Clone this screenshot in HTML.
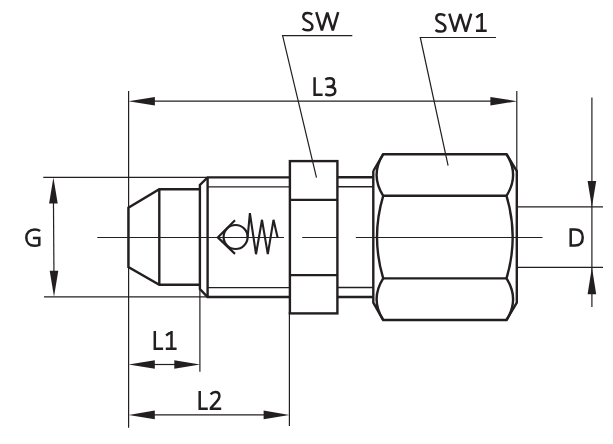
<!DOCTYPE html>
<html><head><meta charset="utf-8">
<style>
html,body{margin:0;padding:0;background:#fff;width:613px;height:444px;overflow:hidden}
svg{display:block}
text{font-family:"Liberation Sans",sans-serif;font-size:25px;fill:#231f20}
</style></head>
<body>
<svg width="613" height="444" viewBox="0 0 613 444">
<rect width="613" height="444" fill="#fff"/>
<!-- thin lines -->
<g stroke="#231f20" stroke-width="1.2" fill="none">
  <!-- leaders -->
  <polyline points="352.3,35.6 282.6,35.6 316.5,177.7"/>
  <polyline points="496,37.5 420.3,37.5 448.1,165.7"/>
  <!-- L3 dim -->
  <line x1="128.6" y1="91" x2="128.6" y2="427.8"/>
  <line x1="516.8" y1="91" x2="516.8" y2="172"/>
  <line x1="150" y1="101.2" x2="495" y2="101.2"/>
  <!-- G dim -->
  <line x1="43.3" y1="177.45" x2="207.6" y2="177.45"/>
  <line x1="44" y1="296.9" x2="208" y2="296.9"/>
  <line x1="53.45" y1="200" x2="53.95" y2="274"/>
  <!-- D dim -->
  <line x1="517" y1="206.95" x2="603" y2="206.95"/>
  <line x1="517" y1="267.3" x2="603" y2="267.3"/>
  <line x1="591.9" y1="97.6" x2="591.9" y2="307"/>
  <!-- L1 / L2 -->
  <line x1="199.9" y1="288" x2="199.9" y2="371.8"/>
  <line x1="289.4" y1="312" x2="289.4" y2="425.9"/>
  <line x1="150" y1="364.5" x2="180" y2="364.5"/>
  <line x1="150" y1="414.9" x2="268" y2="414.9"/>
  <!-- center line -->
  <line x1="97.3" y1="237.5" x2="284" y2="237.5"/>
  <line x1="302.2" y1="237.5" x2="337" y2="237.5"/>
  <line x1="355.8" y1="237.5" x2="542.5" y2="237.5"/>
  <!-- thread minor lines -->
  <line x1="208" y1="186.85" x2="289.5" y2="186.85" stroke-width="1.4"/>
  <line x1="208" y1="287.6" x2="289.5" y2="287.6" stroke-width="1.4"/>
  <line x1="337.5" y1="186.7" x2="373.3" y2="186.7" stroke-width="1.5"/>
  <line x1="337.5" y1="287.6" x2="373.3" y2="287.6" stroke-width="1.5"/>
</g>
<!-- arrowheads -->
<g fill="#231f20" stroke="none">
  <polygon points="128.4,101.2 154.9,96.9 154.9,105.5"/>
  <polygon points="517.2,101.2 490.4,105.5 490.4,96.9"/>
  <polygon points="53.4,177.4 57.7,203.4 49.1,203.4"/>
  <polygon points="54,296.8 49.7,270.8 58.3,270.8"/>
  <polygon points="591.9,206.9 587.6,181.0 596.2,181.0"/>
  <polygon points="591.9,267.3 596.2,294.2 587.6,294.2"/>
  <polygon points="128.6,364.5 154.8,360.2 154.8,368.8"/>
  <polygon points="200.0,364.5 174.3,368.8 174.3,360.2"/>
  <polygon points="128.6,414.9 154.8,410.6 154.8,419.2"/>
  <polygon points="289.4,414.9 263.6,419.2 263.6,410.6"/>
</g>
<!-- thick outlines -->
<g stroke="#231f20" stroke-width="2.4" fill="none" stroke-linejoin="miter">
  <!-- tip -->
  <polyline points="199.9,189.2 159.3,189.2 128.4,207.8 128.4,267.1 159.3,284.7 199.9,284.7"/>
  <line x1="159.3" y1="189.2" x2="159.3" y2="284.7"/>
  <!-- thread body -->
  <polyline points="289.5,177.35 207.6,177.35 199.9,184.9 199.9,289 207.6,297.05 289.5,297.05"/>
  <line x1="207.6" y1="177.35" x2="207.6" y2="297.05"/>
  <!-- SW nut -->
  <rect x="289.9" y="161.1" width="47.5" height="152.3"/>
  <line x1="289.9" y1="199.9" x2="337.4" y2="199.9"/>
  <line x1="289.9" y1="275.1" x2="337.4" y2="275.1"/>
  <!-- shafts -->
  <line x1="337.4" y1="177.3" x2="373.3" y2="177.3"/>
  <line x1="337.4" y1="297" x2="373.3" y2="297"/>
  <!-- SW1 nut -->
  <polyline points="373.3,171 383.2,154.2 506.5,154.2 516.8,171 516.8,302.6 506.5,320 383.2,320 373.3,302.6 373.3,171"/>
  <line x1="383.2" y1="195.8" x2="506.5" y2="195.8"/>
  <line x1="383.2" y1="278.4" x2="506.5" y2="278.4"/>
  <path d="M383.2,154.2 Q370,175 383.2,195.8 Q370.8,237.1 383.2,278.4 Q370,299.2 383.2,320"/>
  <path d="M506.5,154.2 Q519.7,175 506.5,195.8 Q518.9,237.1 506.5,278.4 Q519.7,299.2 506.5,320"/>
  <!-- check valve -->
  <polyline points="235,220.3 217.8,237.4 235,253.9" stroke-width="2.2"/>
  <circle cx="235.6" cy="237" r="12" stroke-width="2.2"/>
  <polyline points="247.6,237.5 249.9,213.2 256,254.2 262,219.8 267.8,254.2 273.5,219.8 277.6,237.5" stroke-width="2.1"/>
</g>
<!-- labels -->
<g stroke="#231f20" stroke-width="2.5" fill="none" stroke-linejoin="miter" stroke-miterlimit="2">
  <path d="M312.2,14.4 C310.8,13.3 309.2,12.9 307.6,12.9 C305,12.9 303.3,14.5 303.3,16.8 C303.3,19.3 305.5,20.4 308,21.6 C310.8,22.9 312.4,24.2 312.4,26.4 C312.4,28.9 310.3,30.2 307.5,30.2 C305.5,30.2 303.7,29.6 302.5,28.6"/><polyline points="316.3,12.2 321.9,30.3 327.3,12.6 332.8,30.3 338.2,12.2"/>
  <g transform="translate(133,1.4)"><path d="M312.2,14.4 C310.8,13.3 309.2,12.9 307.6,12.9 C305,12.9 303.3,14.5 303.3,16.8 C303.3,19.3 305.5,20.4 308,21.6 C310.8,22.9 312.4,24.2 312.4,26.4 C312.4,28.9 310.3,30.2 307.5,30.2 C305.5,30.2 303.7,29.6 302.5,28.6"/><polyline points="316.3,12.2 321.9,30.3 327.3,12.6 332.8,30.3 338.2,12.2"/></g>
  <path d="M476.3,17.5 L481.2,13.9 M481.7,13 V30.8 M476,30.8 H486.7"/>
  <!-- L3 -->
  <g transform="translate(0,0.15)">
  <path d="M314.6,77.2 V94.7 H322.6"/>
  <path d="M325.3,79.4 C326.8,78.5 328.4,78.2 329.9,78.2 C332.4,78.2 334,79.6 334,82 C334,84.8 331.8,86.5 328.7,86.5 H326.6 M328.7,86.5 C332.7,86.5 335.3,88 335.3,90.6 C335.3,93.4 333,95 329.8,95 C328.2,95 326.6,94.6 325.2,93.9"/>
  </g>
  <!-- L1 -->
  <path d="M154.8,331 V348.8 H163.1"/>
  <path d="M166.1,335.5 L171,331.9 M171.5,331 V348.8 M165.8,348.8 H176.6"/>
  <!-- L2 -->
  <path d="M199.7,391 V408.8 H207.8"/>
  <path d="M210.6,394.3 C212,392.8 213.6,392.1 215.3,392.1 C217.8,392.1 219.4,393.6 219.4,396 C219.4,398.6 218,400.3 215.5,402.8 L210.9,407.9 V408.8 H221.2"/>
  <!-- G -->
  <path d="M40.1,231 C38.7,229.9 36.9,229.4 34.8,229.4 C29.8,229.4 26.3,232.7 26.3,237.6 C26.3,242.6 29.6,245.8 34.4,245.8 C36.3,245.8 38,245.4 39.3,244.8 V237.9 H32.9"/>
  <!-- D -->
  <path d="M570.7,229.6 V245.6 H575 C580,245.6 582.7,242.5 582.7,237.6 C582.7,232.6 580,229.6 575,229.6 Z"/>
</g>
</svg>
</body></html>
